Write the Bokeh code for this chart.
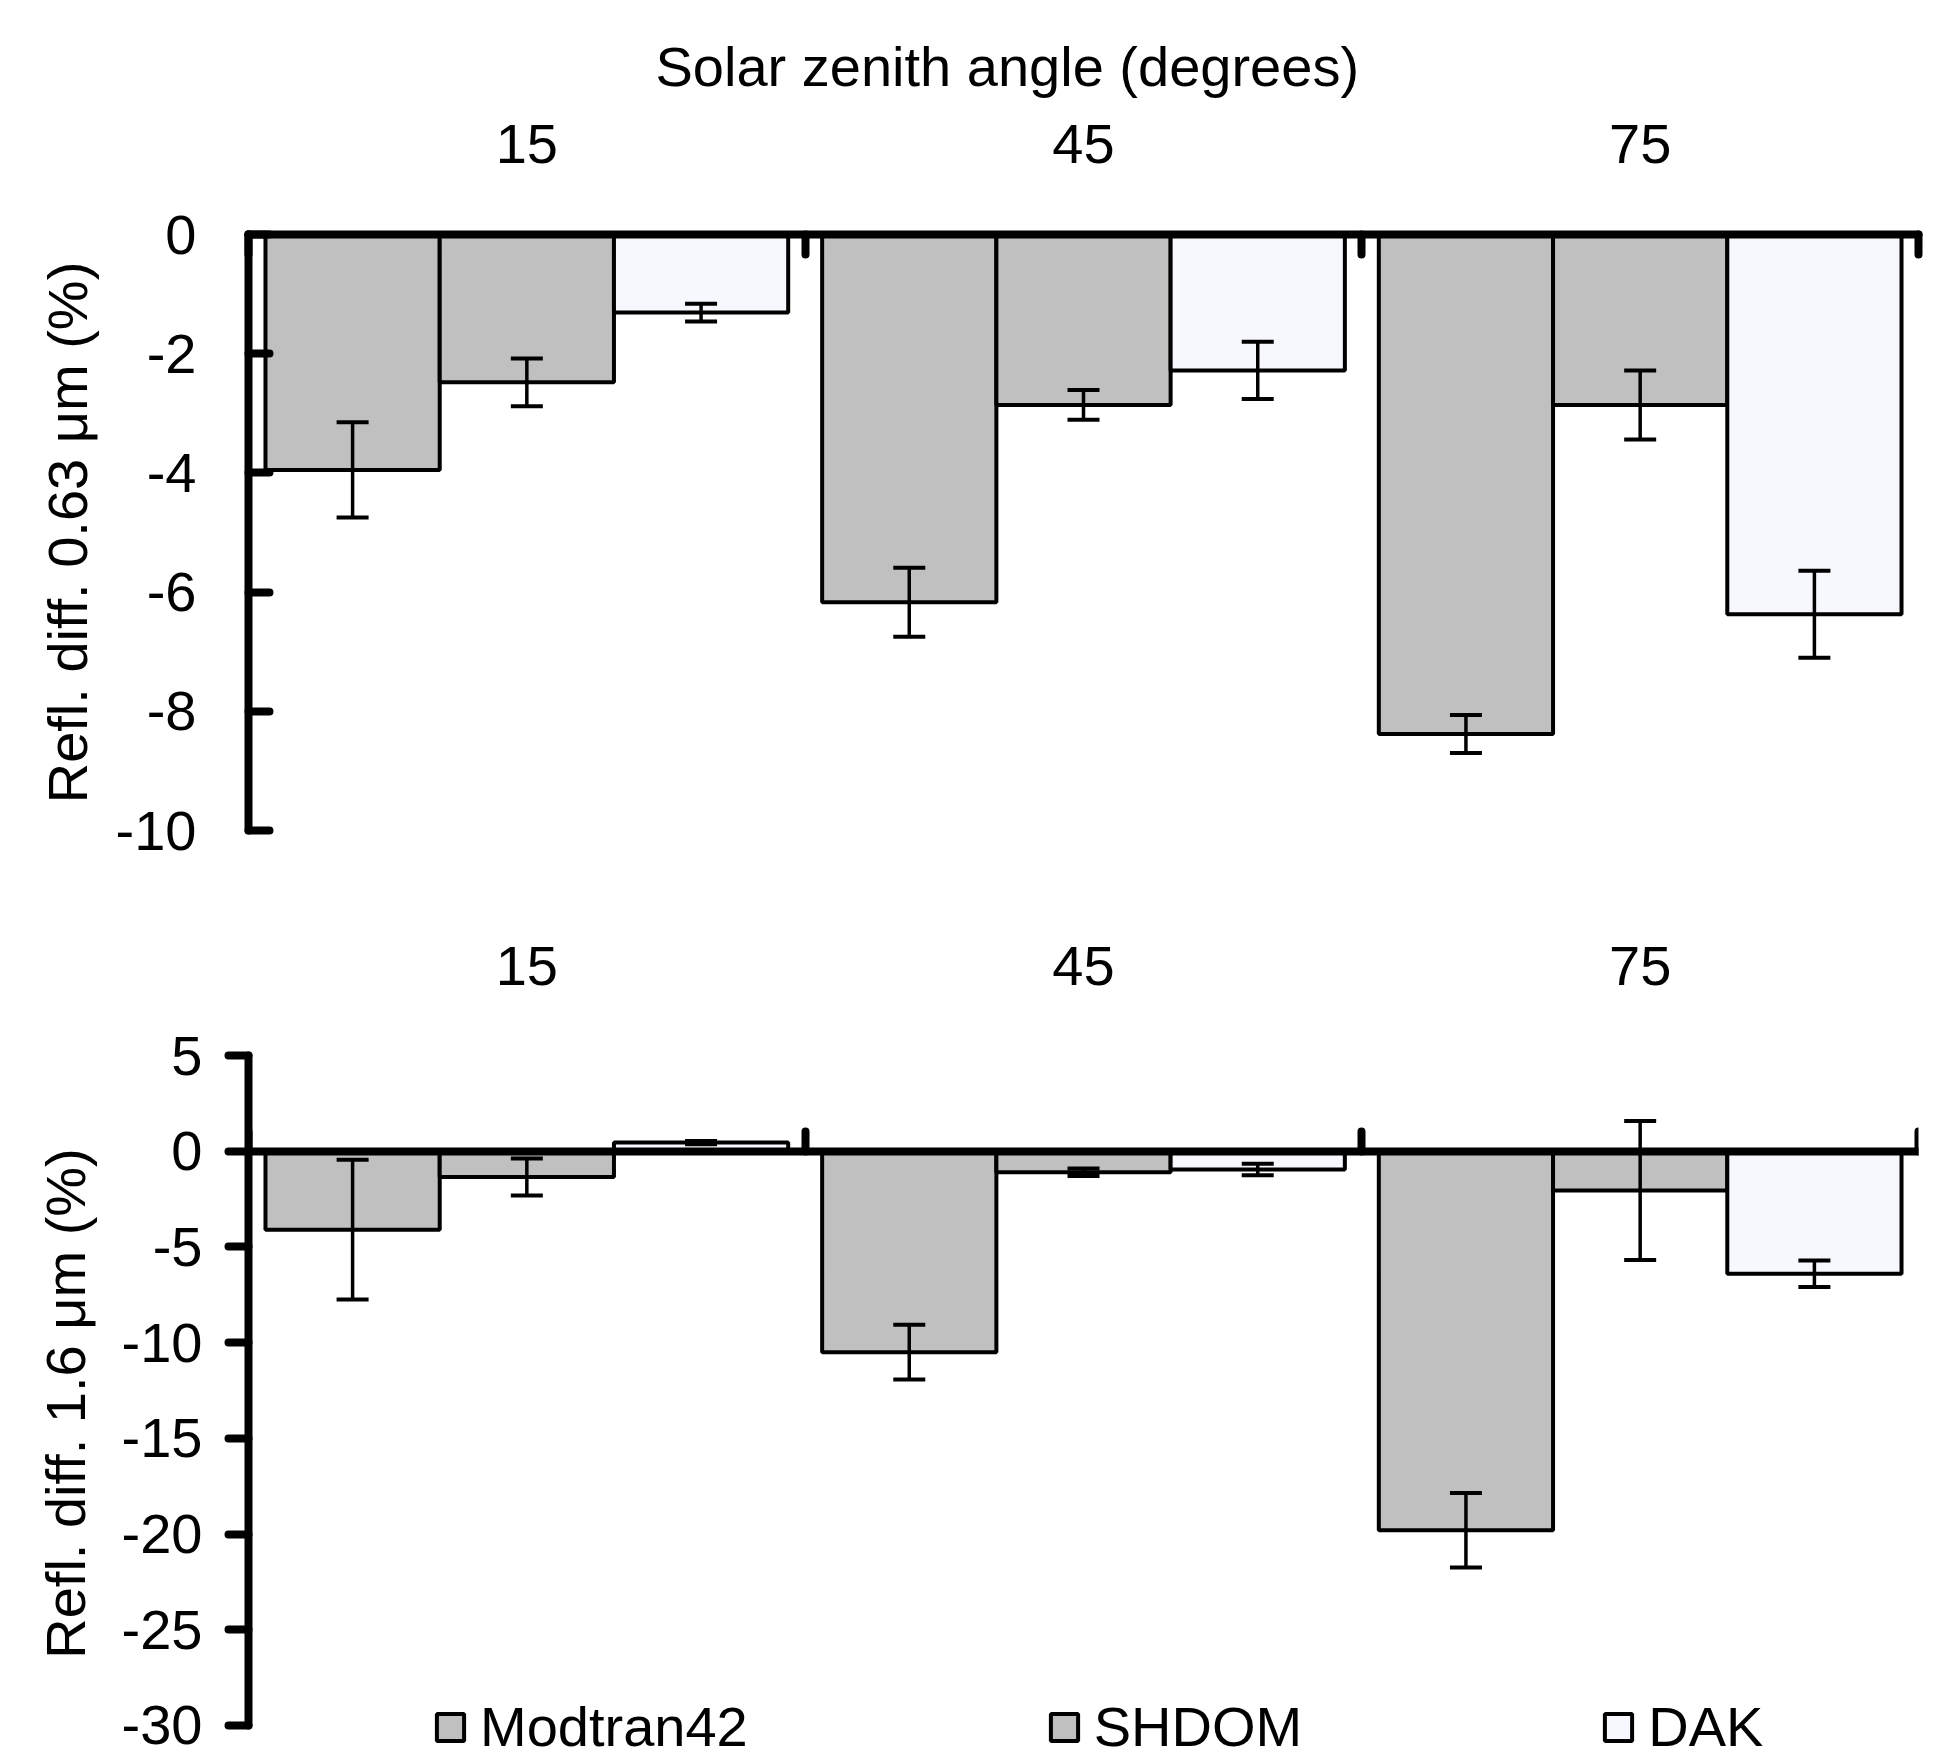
from bokeh.plotting import figure
from bokeh.models import (Range1d, LinearAxis, FixedTicker, Whisker, TeeHead,
                          ColumnDataSource, Legend, LegendItem, Title,
                          CustomJSTickFormatter)
from bokeh.layouts import column
from bokeh.embed import file_html
from bokeh.resources import INLINE

# ---------------- data ----------------
angles = ["15", "45", "75"]          # solar zenith angle (degrees)
models = ["Modtran42", "SHDOM", "DAK"]

# reflectance difference at 0.63 um (%)
modtran_063 = [-3.95, -6.17, -8.38]
modtran_063_err = [0.80, 0.58, 0.32]
shdom_063 = [-2.48, -2.86, -2.86]
shdom_063_err = [0.40, 0.25, 0.58]
dak_063 = [-1.31, -2.28, -6.37]
dak_063_err = [0.15, 0.48, 0.73]

# reflectance difference at 1.6 um (%)
modtran_16 = [-4.10, -10.50, -19.80]
modtran_16_err = [3.65, 1.43, 1.95]
shdom_16 = [-1.35, -1.10, -2.05]
shdom_16_err = [0.97, 0.20, 3.63]
dak_16 = [0.45, -0.95, -6.40]
dak_16_err = [0.08, 0.30, 0.69]

y_ticks_063 = [0, -2, -4, -6, -8, -10]
y_ticks_16 = [5, 0, -5, -10, -15, -20, -25, -30]

# ---------------- style ----------------
FONT = "Liberation Sans"
FS = "56px"
GRAY = "#C0C0C0"
LIGHT = "#F7F8FD"
colors = [GRAY, GRAY, LIGHT]
BAR_W = 0.313
AXIS_W = 8

LBL063 = "Refl. diff. 0.63 \u03bcm (%)"
LBL16 = "Refl. diff. 1.6 \u03bcm (%)"

num_formatter = CustomJSTickFormatter(code="return tick.toString()")
label_formatter = CustomJSTickFormatter(args=dict(labels=angles),
                                        code="return labels[Math.floor(tick)]")


def style_y(ax, ticks, tick_in, tick_out, standoff, label, label_standoff):
    ax.ticker = FixedTicker(ticks=ticks)
    ax.formatter = num_formatter
    ax.bounds = (min(ticks), max(ticks))
    ax.axis_line_width = AXIS_W
    ax.axis_line_color = "black"
    ax.axis_line_cap = "round"
    ax.major_tick_line_width = AXIS_W
    ax.major_tick_line_color = "black"
    ax.major_tick_line_cap = "round"
    ax.major_tick_in = tick_in
    ax.major_tick_out = tick_out
    ax.minor_tick_line_color = None
    ax.major_label_text_font = FONT
    ax.major_label_text_font_size = FS
    ax.major_label_text_color = "black"
    ax.major_label_standoff = standoff
    ax.axis_label = label
    ax.axis_label_text_font = FONT
    ax.axis_label_text_font_size = FS
    ax.axis_label_text_font_style = "normal"
    ax.axis_label_text_color = "black"
    ax.axis_label_standoff = label_standoff


def add_bars(p, vals, errs):
    renderers = []
    for j, (m, v, e) in enumerate(zip(models, vals, errs)):
        xs = [i + 0.5 + (j - 1) * BAR_W for i in range(len(angles))]
        src = ColumnDataSource(dict(
            x=xs, top=v,
            upper=[a + b for a, b in zip(v, e)],
            lower=[a - b for a, b in zip(v, e)]))
        r = p.vbar(x="x", top="top", bottom=0, width=BAR_W, source=src,
                   fill_color=colors[j], line_color="black", line_width=4)
        renderers.append(r)
        w = Whisker(source=src, base="x", upper="upper", lower="lower",
                    line_width=3.5, line_color="black", level="overlay",
                    upper_head=TeeHead(size=32, line_width=4, line_color="black"),
                    lower_head=TeeHead(size=32, line_width=4, line_color="black"))
        p.add_layout(w)
    return renderers


# ---------------- top panel ----------------
p1 = figure(width=1949, height=885, output_backend="svg", toolbar_location=None,
            x_range=Range1d(0, 3), y_range=Range1d(-10, 0),
            x_axis_location=None, min_border_left=241, min_border_right=31,
            min_border_top=234, min_border_bottom=55,
            title=Title(text="Solar zenith angle (degrees)", align="left",
                        offset=407, text_font=FONT, text_font_size=FS,
                        text_font_style="normal", text_color="black",
                        standoff=48))
p1.outline_line_color = None
p1.xgrid.visible = False
p1.ygrid.visible = False
style_y(p1.yaxis[0], y_ticks_063, 21, 0, 52, LBL063, 14)

top_ax = LinearAxis(ticker=FixedTicker(ticks=[0.5, 1.5, 2.5], minor_ticks=[0, 1, 2, 3]),
                    formatter=label_formatter)
top_ax.axis_line_width = AXIS_W
top_ax.axis_line_color = "black"
top_ax.axis_line_cap = "round"
top_ax.major_tick_line_color = None
top_ax.major_tick_in = 0
top_ax.major_tick_out = 0
top_ax.minor_tick_line_color = "black"
top_ax.minor_tick_line_width = AXIS_W
top_ax.minor_tick_line_cap = "round"
top_ax.minor_tick_in = 20
top_ax.minor_tick_out = 0
top_ax.major_label_text_font = FONT
top_ax.major_label_text_font_size = FS
top_ax.major_label_text_color = "black"
top_ax.major_label_standoff = 72
p1.add_layout(top_ax, "above")

add_bars(p1, [modtran_063, shdom_063, dak_063],
         [modtran_063_err, shdom_063_err, dak_063_err])

# ---------------- bottom panel ----------------
p2 = figure(width=1949, height=866, output_backend="svg", toolbar_location=None,
            x_range=Range1d(0, 3), y_range=Range1d(-31.36, 5),
            x_axis_location=None, min_border_left=248, min_border_right=12,
            min_border_top=170, min_border_bottom=0)
p2.outline_line_color = None
p2.xgrid.visible = False
p2.ygrid.visible = False
style_y(p2.yaxis[0], y_ticks_16, 0, 20, 26, LBL16, 22)

zero_ax = LinearAxis(ticker=FixedTicker(ticks=[0, 1, 2, 3]), fixed_location=0,
                     formatter=CustomJSTickFormatter(code="return ''"))
zero_ax.axis_line_width = AXIS_W
zero_ax.axis_line_color = "black"
zero_ax.axis_line_cap = "round"
zero_ax.major_tick_line_color = "black"
zero_ax.major_tick_line_width = AXIS_W
zero_ax.major_tick_line_cap = "round"
zero_ax.major_tick_in = 0
zero_ax.major_tick_out = 20
zero_ax.minor_tick_line_color = None
zero_ax.major_label_text_font_size = "2px"
zero_ax.major_label_standoff = 0
p2.add_layout(zero_ax, "above")

lab_ax = LinearAxis(ticker=FixedTicker(ticks=[0.5, 1.5, 2.5], minor_ticks=[]),
                    formatter=label_formatter)
lab_ax.axis_line_color = None
lab_ax.major_tick_line_color = None
lab_ax.minor_tick_line_color = None
lab_ax.major_tick_in = 0
lab_ax.major_tick_out = 0
lab_ax.major_label_text_font = FONT
lab_ax.major_label_text_font_size = FS
lab_ax.major_label_text_color = "black"
lab_ax.major_label_standoff = 71
p2.add_layout(lab_ax, "above")

rs = add_bars(p2, [modtran_16, shdom_16, dak_16],
              [modtran_16_err, shdom_16_err, dak_16_err])

legend = Legend(items=[LegendItem(label=m, renderers=[r]) for m, r in zip(models, rs)],
                orientation="horizontal", location=(185, -8),
                glyph_width=34, glyph_height=34, label_standoff=13, spacing=299,
                padding=0, margin=0, border_line_color=None,
                background_fill_alpha=0, label_text_font=FONT,
                label_text_font_size=FS, label_text_color="black")
p2.add_layout(legend)

layout = column(p1, p2, spacing=0)
open("out.html", "w").write(file_html(layout, INLINE))
